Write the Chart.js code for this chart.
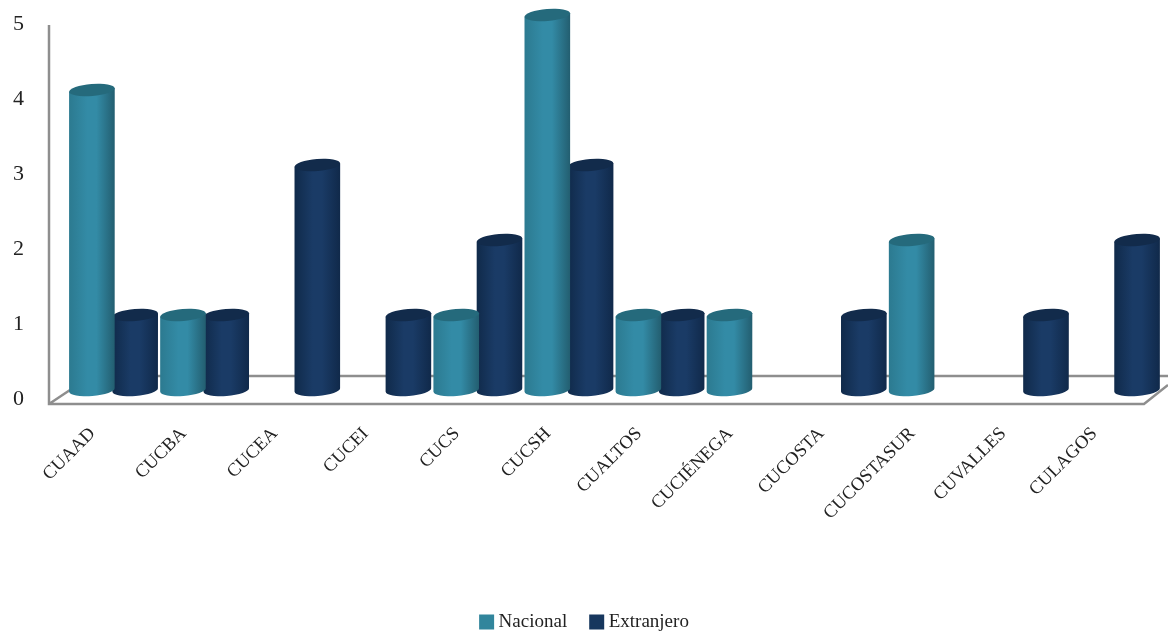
<!DOCTYPE html>
<html>
<head>
<meta charset="utf-8">
<script src="https://cdn.jsdelivr.net/npm/chart.js@4"></script>
<style>
  body { margin: 0; background: #fff; }
  canvas { display: block; }
</style>
</head>
<body>
<canvas id="chart" width="1168" height="631"></canvas>
<script>
const categories = ['CUAAD', 'CUCBA', 'CUCEA', 'CUCEI', 'CUCS', 'CUCSH', 'CUALTOS', 'CUCIÉNEGA', 'CUCOSTA', 'CUCOSTASUR', 'CUVALLES', 'CULAGOS'];
const nacional = [4, 1, 0, 0, 1, 5, 1, 1, 0, 2, 0, 0];
const extranjero = [1, 1, 3, 1, 2, 3, 1, 0, 1, 0, 1, 2];
const yTicks = [0, 1, 2, 3, 4, 5];

const shades = {
  '#31859c': { left: '#2c7a90', mid: '#338ba6', right: '#235e70', top: '#256a7c' },
  '#17375e': { left: '#102a4a', mid: '#1a3b66', right: '#10294a', top: '#122b4b' }
};

// bars are drawn as cylinders, position and size come from the bar element
Chart.BarElement.prototype.draw = function (ctx) {
  if (Math.abs(this.base - this.y) < 1) return;
  const c = shades[this.options.backgroundColor];
  const rx = this.width * 1.055 / 2;
  const ry = 6;
  const tilt = -0.08;
  const dy = rx * Math.sin(tilt);
  const grad = ctx.createLinearGradient(this.x - rx, 0, this.x + rx, 0);
  grad.addColorStop(0, c.left);
  grad.addColorStop(0.4, c.mid);
  grad.addColorStop(0.6, c.mid);
  grad.addColorStop(1, c.right);
  ctx.save();
  ctx.fillStyle = grad;
  ctx.beginPath();
  ctx.moveTo(this.x - rx, this.y - dy);
  ctx.lineTo(this.x - rx, this.base - dy);
  ctx.ellipse(this.x, this.base, rx, ry, tilt, Math.PI, 0, true);
  ctx.lineTo(this.x + rx, this.y + dy);
  ctx.closePath();
  ctx.fill();
  ctx.fillStyle = c.top;
  ctx.beginPath();
  ctx.ellipse(this.x, this.y, rx, ry, tilt, 0, Math.PI * 2);
  ctx.fill();
  ctx.restore();
};

// the wall and floor lines behind the bars
const frame = {
  id: 'frame',
  beforeDatasetsDraw(chart) {
    const { ctx, chartArea: a } = chart;
    ctx.save();
    ctx.strokeStyle = '#8e8e8e';
    ctx.lineWidth = 2.5;
    ctx.beginPath();
    ctx.moveTo(a.left - 19, a.top + 10);
    ctx.lineTo(a.left - 19, a.bottom + 14);
    ctx.lineTo(a.right - 17, a.bottom + 14);
    ctx.lineTo(a.right + 7, a.bottom - 5);
    ctx.moveTo(a.left - 19, a.bottom + 14);
    ctx.lineTo(a.left + 2, a.bottom);
    ctx.moveTo(a.left + 2, a.bottom - 14);
    ctx.lineTo(a.right + 7, a.bottom - 14);
    ctx.stroke();
    ctx.restore();
  },
  afterLayout(chart) {
    chart.legend.top = 585.5;
    chart.legend.left += 6;
    chart.legend.right += 6;
  }
};

new Chart(document.getElementById('chart'), {
  type: 'bar',
  data: {
    labels: categories,
    datasets: [
      { label: 'Nacional', data: nacional, backgroundColor: '#31859c', borderColor: '#31859c', borderWidth: 10, clip: false },
      { label: 'Extranjero', data: extranjero, backgroundColor: '#17375e', borderColor: '#17375e', borderWidth: 10, clip: false }
    ]
  },
  options: {
    responsive: false,
    animation: false,
    categoryPercentage: 0.95,
    barPercentage: 1,
    layout: { padding: { top: 15, right: 7 } },
    plugins: {
      tooltip: { enabled: false },
      legend: {
        position: 'bottom',
        labels: {
          boxWidth: 5,
          boxHeight: 5,
          padding: 27,
          color: '#222',
          font: { family: 'Liberation Serif', size: 19 }
        }
      }
    },
    scales: {
      y: {
        min: 0,
        max: 5,
        afterBuildTicks: s => { s.ticks = yTicks.map(value => ({ value })); },
        afterFit: s => { s.width = 68; s.paddingTop = 0; s.paddingBottom = 0; },
        border: { display: false },
        grid: { display: false },
        ticks: {
          padding: 36,
          labelOffset: 9,
          color: '#222',
          font: { family: 'Liberation Serif', size: 22 }
        }
      },
      x: {
        afterFit: s => { s.height = 185; },
        border: { display: false },
        grid: { display: false },
        ticks: {
          maxRotation: 45,
          minRotation: 45,
          autoSkip: false,
          padding: 25,
          labelOffset: -21,
          color: '#222',
          font: { family: 'Liberation Serif', size: 18.5 }
        }
      }
    }
  },
  plugins: [frame]
});
</script>
</body>
</html>
